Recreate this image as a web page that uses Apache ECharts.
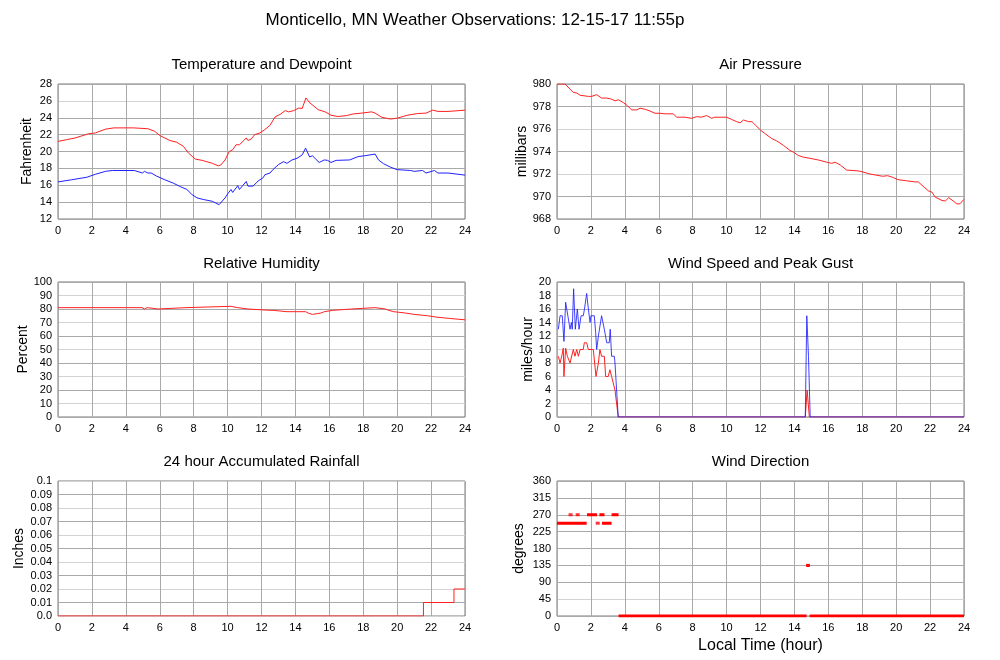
<!DOCTYPE html>
<html><head><meta charset="utf-8">
<script src="https://cdn.jsdelivr.net/npm/echarts/dist/echarts.min.js"></script>
<style>html,body{margin:0;padding:0;background:#fff}#c{width:1000px;height:660px}</style>
</head><body><div id="c"></div>
<script>
// ---- data ----
const mainTitle = 'Monticello, MN Weather Observations: 12-15-17 11:55p';
const panelTitles = ['Temperature and Dewpoint','Air Pressure','Relative Humidity','Wind Speed and Peak Gust','24 hour Accumulated Rainfall','Wind Direction'];
const yNames = ['Fahrenheit','millibars','Percent','miles/hour','Inches','degrees'];
const xName = 'Local Time (hour)';

const temperature = [[0,21.2],[0.5,21.4],[1,21.6],[1.8,22.1],[2.2,22.2],[2.8,22.65],[3.3,22.8],[4.45,22.8],[4.5,22.7],[5.3,22.7],[5.4,22.8],[5.7,22.4],[6.0,21.9],[6.6,21.3],[7.0,21.1],[7.4,20.6],[7.7,19.8],[8.1,19.1],[8.5,18.95],[9.1,18.6],[9.45,18.3],[9.6,18.4],[9.85,19.0],[10.1,20.0],[10.3,20.2],[10.5,20.8],[10.7,20.8],[11.1,21.6],[11.2,21.3],[11.4,21.5],[11.6,22.0],[11.9,22.2],[12.2,22.6],[12.5,23.1],[12.8,24.1],[13.1,24.4],[13.4,24.85],[13.6,24.7],[13.9,24.85],[14.2,25.15],[14.4,25.1],[14.62,26.35],[14.86,25.75],[15.35,24.95],[15.75,24.7],[16.1,24.3],[16.5,24.15],[17.0,24.25],[17.4,24.45],[17.9,24.55],[18.5,24.7],[18.7,24.55],[19.1,24.05],[19.6,23.85],[20.0,23.95],[20.6,24.3],[21.2,24.5],[21.7,24.55],[22.1,24.9],[22.4,24.75],[23.0,24.75],[23.1,24.9],[24,24.9]];
const dewpoint = [[0,16.4],[0.8,16.65],[1.7,16.95],[2.2,17.3],[2.8,17.65],[3.2,17.75],[4.5,17.75],[4.98,17.45],[5.1,17.65],[5.3,17.45],[5.5,17.45],[5.8,17.1],[6.3,16.65],[6.8,16.25],[7.2,15.85],[7.6,15.5],[7.9,14.9],[8.2,14.5],[8.6,14.3],[9.1,14.1],[9.5,13.7],[9.6,13.9],[9.85,14.5],[10.05,15.1],[10.2,15.5],[10.3,15.15],[10.6,15.95],[10.7,15.5],[11.1,16.45],[11.2,15.9],[11.5,15.9],[11.8,16.5],[12.1,16.9],[12.2,17.25],[12.5,17.45],[12.7,17.9],[13.0,18.45],[13.3,18.8],[13.4,19.0],[13.5,18.6],[13.8,19.0],[14.1,19.2],[14.4,19.6],[14.6,20.4],[14.84,19.35],[15.0,19.5],[15.2,19.1],[15.4,18.7],[15.7,19.0],[15.9,18.95],[16.1,18.7],[16.4,18.95],[17.2,19.0],[17.7,19.4],[18.1,19.5],[18.7,19.7],[18.9,19.0],[19.2,18.55],[19.6,18.15],[20.0,17.85],[20.8,17.75],[21.0,17.65],[21.5,17.75],[21.7,17.45],[22.2,17.75],[22.4,17.45],[23.0,17.45],[23.1,17.25],[24,17.2]];
const pressure = [[0,980],[0.47,980],[0.77,979.55],[0.96,979.25],[1.16,979.2],[1.36,979.0],[1.85,978.9],[2.04,978.9],[2.34,979.05],[2.63,978.75],[2.93,978.75],[3.22,978.65],[3.42,978.5],[3.62,978.6],[3.91,978.35],[4.17,978.05],[4.4,977.7],[4.7,977.7],[4.9,977.85],[5.2,977.75],[5.48,977.6],[5.78,977.4],[6.07,977.4],[6.37,977.35],[6.86,977.35],[7.05,977.05],[7.54,977.05],[7.94,976.95],[8.23,977.1],[8.53,977.05],[8.82,977.2],[9.12,976.95],[9.3,977.05],[10.0,977.05],[10.3,976.85],[10.6,976.65],[10.8,976.55],[11.0,976.8],[11.3,976.65],[11.5,976.65],[11.7,976.35],[12.0,975.9],[12.26,975.6],[12.66,975.15],[12.95,974.95],[13.35,974.55],[13.73,974.1],[13.93,973.95],[14.23,973.65],[14.52,973.5],[14.9,973.4],[15.4,973.25],[15.9,973.05],[16.2,972.95],[16.4,973.05],[16.7,972.8],[17.08,972.35],[17.57,972.3],[17.87,972.25],[18.45,972.0],[19.2,971.8],[19.5,971.85],[19.8,971.7],[20.1,971.5],[20.6,971.4],[21.1,971.3],[21.3,971.3],[21.6,970.9],[21.9,970.5],[22.1,970.4],[22.3,969.95],[22.7,969.65],[22.9,969.6],[23.1,969.9],[23.37,969.6],[23.57,969.35],[23.76,969.35],[24,969.75]];
const humidity = [[0,81],[4.95,80],[5.1,81],[5.25,80],[5.9,81],[7.55,82],[10.2,81],[10.6,80],[11.2,79],[12.55,78],[12.6,79],[12.7,78],[13.5,77],[13.6,78],[14.6,77],[14.75,76],[15.0,77],[15.5,78],[15.7,79],[16.2,80],[17.3,81],[18.7,80],[19.3,79],[19.5,78],[19.8,77],[20.5,76],[21.0,75],[21.8,74],[22.3,73],[23.1,72],[24,72]];
const windGust = [[0.08,13],[0.18,15],[0.31,15],[0.41,11.2],[0.51,17],[0.61,17],[0.77,13],[0.85,14],[0.9,13],[0.98,19],[1.08,13],[1.2,16],[1.3,13],[1.42,15],[1.55,15],[1.62,16],[1.75,18.3],[1.85,16],[1.95,14],[2.0,15],[2.2,15],[2.28,12.5],[2.34,10],[2.44,12],[2.53,12],[2.63,15],[2.79,13],[2.93,11],[3.08,11],[3.14,13],[3.22,9],[3.38,9],[3.42,8],[3.61,0],[14.64,0],[14.73,15],[14.83,9],[14.93,0],[24,0]];
const windSpeed = [[0.08,9],[0.18,8],[0.28,9],[0.37,10.2],[0.41,6],[0.51,10.2],[0.61,9],[0.77,8],[0.86,8],[0.96,10],[1.06,9],[1.16,10],[1.26,9],[1.36,10],[1.55,10],[1.61,11],[1.75,11],[1.85,10],[2.14,10],[2.3,6],[2.44,8],[2.53,10],[2.63,9],[2.79,9],[2.87,6],[3.02,6],[3.12,7],[3.22,6],[3.32,6],[3.42,4],[3.61,0],[14.64,0],[14.75,4],[14.88,0],[24,0]];
const rainfall = [[0,0],[21.55,0.01],[23.35,0.02],[24,0.02]];
// wind direction observations grouped in runs: [start hour, end hour, degrees]
const windDirRuns = [[0,1.75,247.5],[2.65,3.22,247.5],[1.77,2.36,270],[2.5,2.8,270],[3.22,3.63,270],[3.63,14.72,0],[14.73,14.88,135],[14.9,24,0]];
// isolated wind direction observations: [hour, degrees]
const windDirSingles = [[0.8,270],[1.22,270],[2.4,247.5],[14.8,135]];

const hourTicks = {min:0, max:24, interval:2};
const yScales = [
  {min:12, max:28, interval:2},
  {min:968, max:980, interval:2},
  {min:0, max:100, interval:10},
  {min:0, max:20, interval:2},
  {min:0, max:0.1, interval:0.01},
  {min:0, max:360, interval:45}
];
const nameGaps = [24, 21, 26, 22, 32, 31];

// ---- styling ----
const FONT = "'Liberation Sans', Arial, sans-serif";
const G = '#a9a9a9', L = '#d2d2d2';
const hGridColors = [
  [G,G,G,G,G,G,G,L,G],
  [G,G,L,G,L,G,G],
  [G,L],
  [G,L],
  [L,G],
  [G,L,G,G,G,G,G,G,G]
];
const grids = [
  {left:58, top:84, width:407, height:135},
  {left:557, top:84, width:407, height:135},
  {left:58, top:282, width:407, height:135},
  {left:557, top:282, width:407, height:135},
  {left:58, top:481, width:407, height:135},
  {left:557, top:481, width:407, height:135}
];
const titleY = [65, 65, 264, 264, 462, 462];

const gridOpts = grids.map(g => Object.assign({show:true, borderColor:'#7a7a7a', borderWidth:1, backgroundColor:'#fff', containLabel:false}, g));
const xAxes = grids.map((g,i) => Object.assign({
  type:'value', gridIndex:i,
  axisLine:{show:false}, axisTick:{show:false},
  axisLabel:{color:'#000', fontSize:11, fontFamily:FONT, margin:6},
  splitLine:{show:true, lineStyle:{color:G, width:1}},
  name: i===5 ? xName : '', nameLocation:'middle', nameGap:22,
  nameTextStyle:{color:'#000', fontSize:16, fontFamily:FONT}
}, hourTicks));
const yAxes = grids.map((g,i) => Object.assign({
  type:'value', gridIndex:i,
  axisLine:{show:false}, axisTick:{show:false},
  axisLabel:{color:'#000', fontSize:11, fontFamily:FONT, margin:6,
    formatter: i===4 ? (v => v===0 ? '0.0' : String(+v.toFixed(2))) : (v => String(v))},
  splitLine:{show:true, lineStyle:{color:hGridColors[i], width:1}},
  name: yNames[i], nameLocation:'middle', nameGap:nameGaps[i],
  nameTextStyle:{color:'#000', fontSize:14, fontFamily:FONT}
}, yScales[i]));

function line(idx, data, color, extra){
  return Object.assign({type:'line', xAxisIndex:idx, yAxisIndex:idx, data:data, showSymbol:false, symbol:'none',
    lineStyle:{color:color, width:1}, itemStyle:{color:color}, animation:false, silent:true}, extra||{});
}
const dirData = [];
windDirRuns.forEach(r => { dirData.push([r[0], r[2]], [r[1], r[2]], [r[1], '-']); });

const series = [
  line(0, temperature, '#ff2020'),
  line(0, dewpoint, '#2020ff'),
  line(1, pressure, '#ff2020'),
  line(2, humidity, '#ff2020', {step:'end'}),
  line(3, windSpeed, '#ff2020'),
  line(3, windGust, '#2020ff', {lineStyle:{color:'#2020ff', width:1, opacity:0.85}}),
  line(4, rainfall, '#ff2020', {step:'end'}),
  line(5, dirData, '#ff0000', {lineStyle:{color:'#ff0000', width:3, cap:'butt'}, connectNulls:false}),
  {type:'scatter', xAxisIndex:5, yAxisIndex:5, data:windDirSingles, symbol:'rect', symbolSize:[4,3],
    itemStyle:{color:'#ff0000'}, animation:false, silent:true}
];

const graphics = [{type:'text', x:475, y:20, style:{text:mainTitle, fill:'#000', font:'17px ' + FONT, textAlign:'center', textVerticalAlign:'middle'}}];
panelTitles.forEach((t,i) => {
  graphics.push({type:'text', x: grids[i].left + grids[i].width/2, y: titleY[i],
    style:{text:t, fill:'#000', font:'15px ' + FONT, textAlign:'center', textVerticalAlign:'middle'}});
});

const chart = echarts.init(document.getElementById('c'), null, {renderer:'canvas'});
chart.setOption({
  backgroundColor:'#fff', animation:false,
  grid: gridOpts, xAxis: xAxes, yAxis: yAxes, series: series, graphic: graphics
});
</script>
</body></html>
